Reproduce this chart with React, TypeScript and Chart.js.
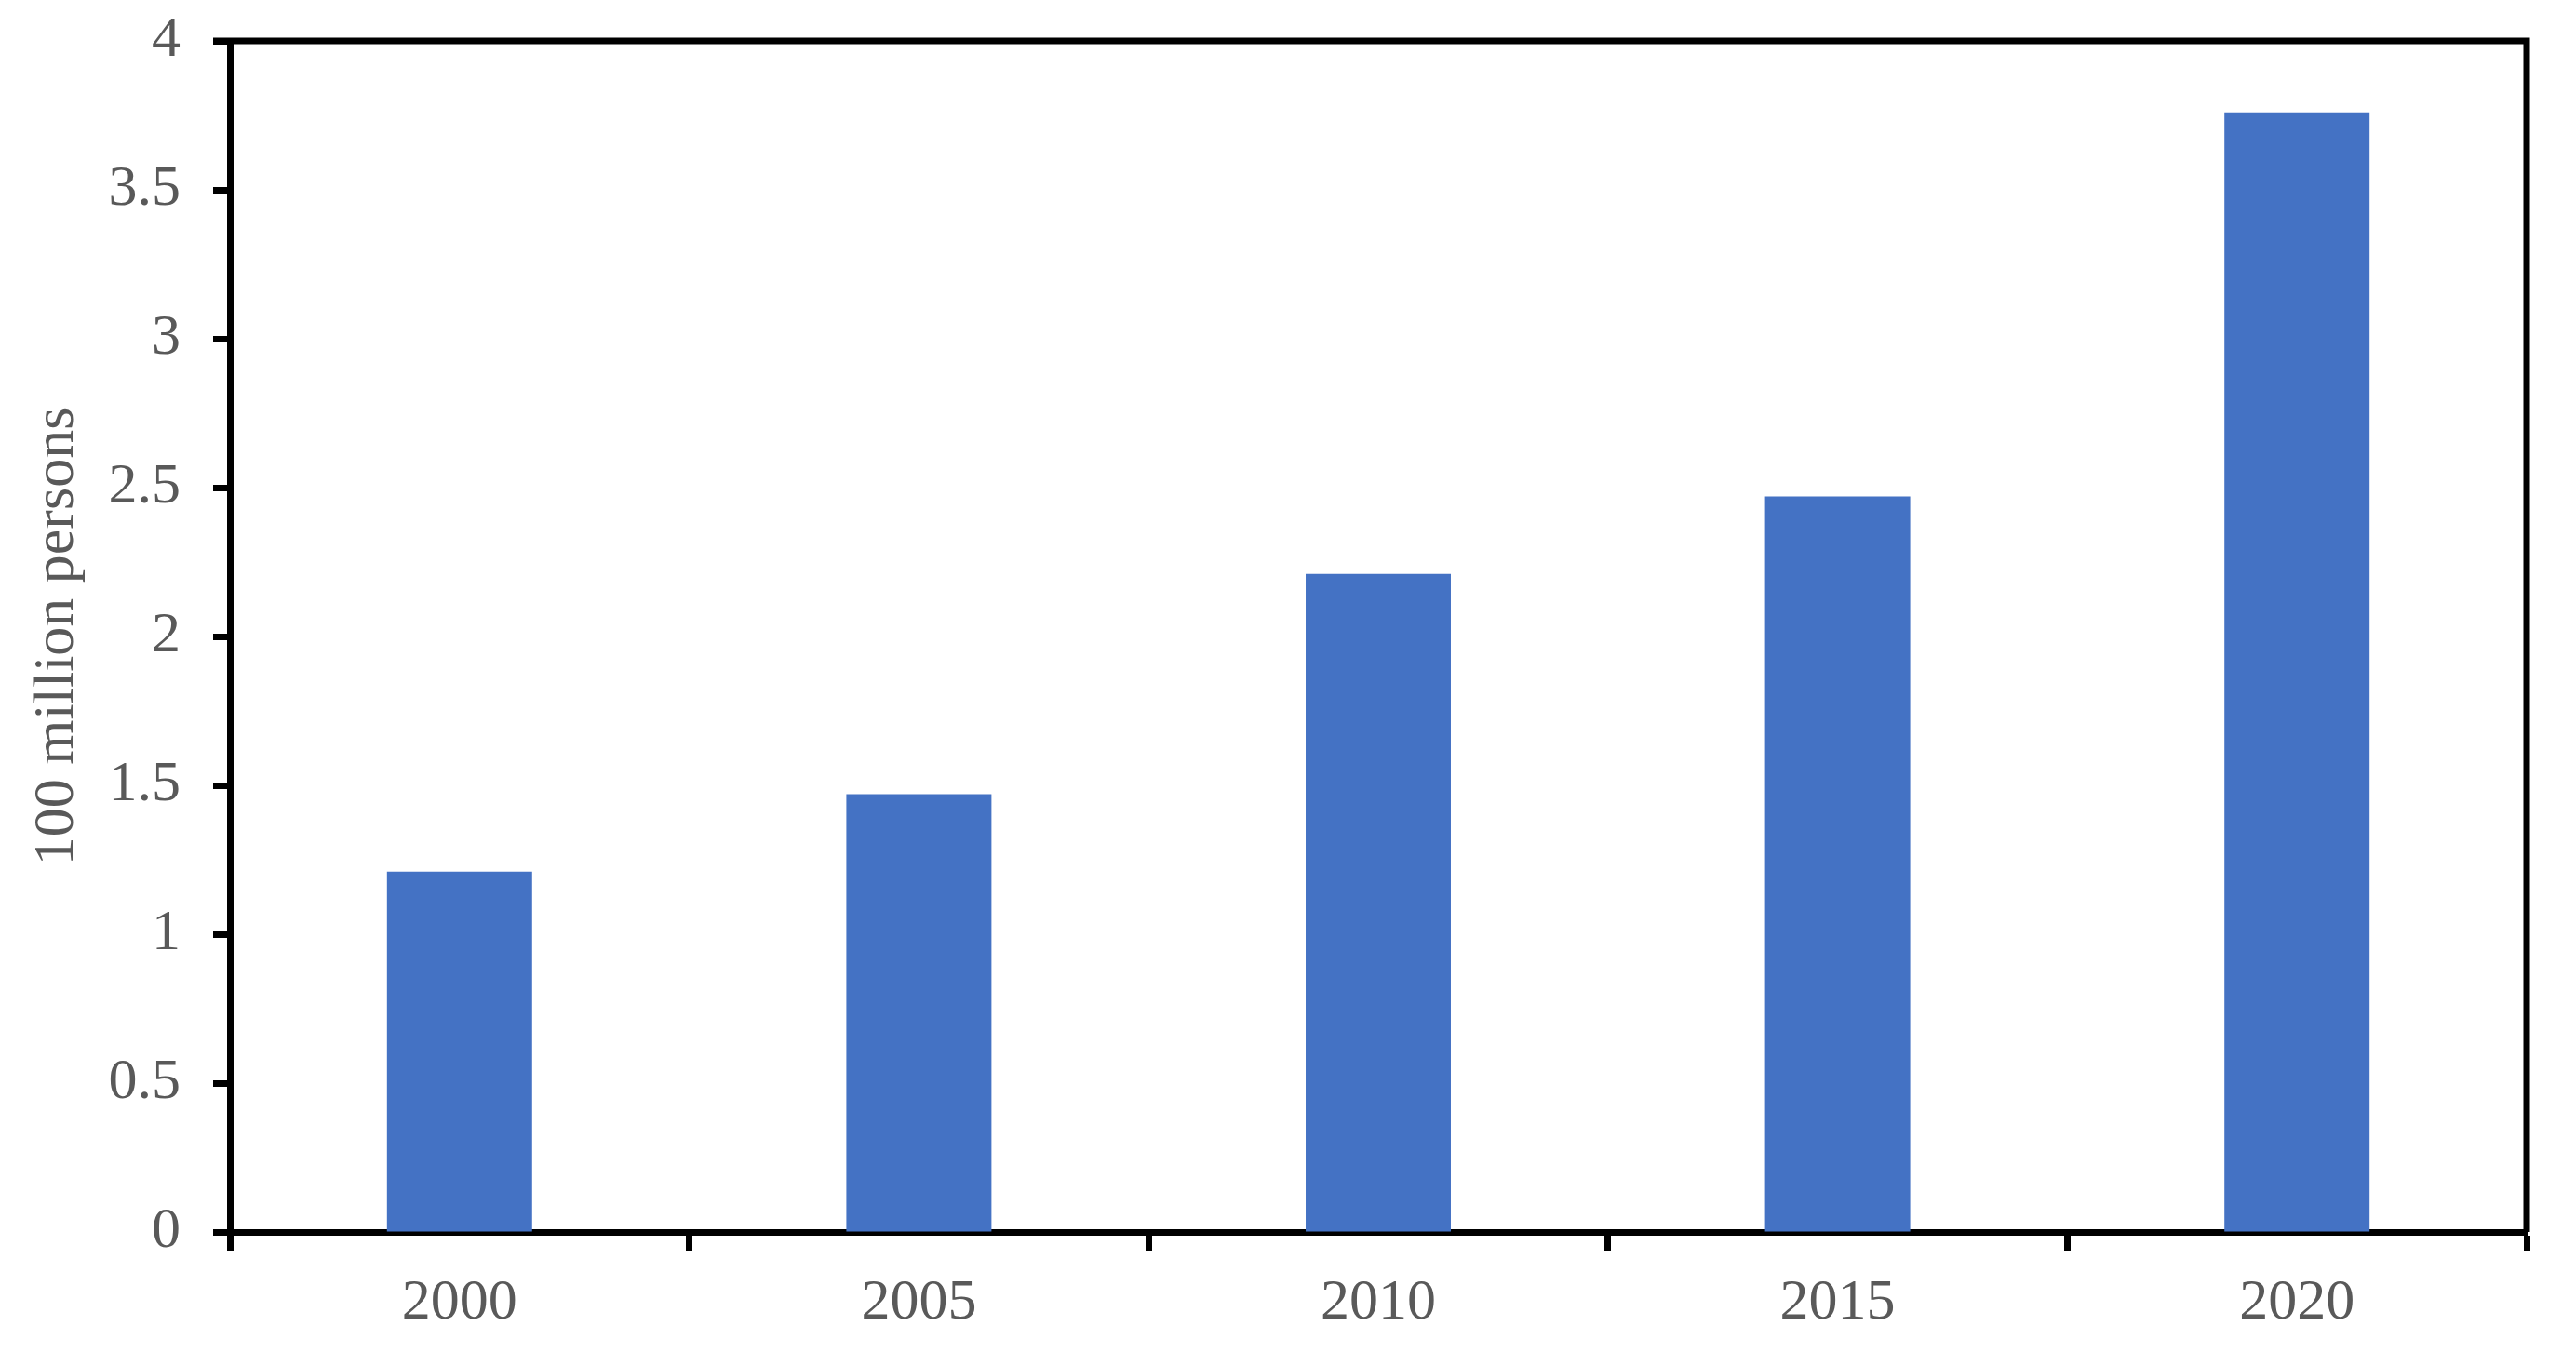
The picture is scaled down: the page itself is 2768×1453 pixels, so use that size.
import { useEffect, useRef } from 'react';
import { Chart, registerables } from 'chart.js';
Chart.register(...registerables);

const years = ['2000', '2005', '2010', '2015', '2020'];
const persons = [1.21, 1.47, 2.21, 2.47, 3.76];
const yTickValues = [0, 0.5, 1, 1.5, 2, 2.5, 3, 3.5, 4];
const yTickLabels = ['0', '0.5', '1', '1.5', '2', '2.5', '3', '3.5', '4'];
const yTitle = '100 million persons';

const FONT = "'Liberation Serif', 'Times New Roman', serif";
const TEXT = '#595959';

export default function App() {
  const ref = useRef<HTMLCanvasElement>(null);
  useEffect(() => {
    document.body.style.margin = '0';
    const frame = {
      id: 'frame',
      afterDraw(chart: any) {
        const { ctx, chartArea } = chart;
        ctx.save();
        ctx.strokeStyle = '#000';
        ctx.lineWidth = 7;
        ctx.beginPath();
        ctx.moveTo(chartArea.left - 18, chartArea.top);
        ctx.lineTo(chartArea.right + 3.5, chartArea.top);
        ctx.moveTo(chartArea.right, chartArea.top);
        ctx.lineTo(chartArea.right, chartArea.bottom);
        ctx.stroke();
        ctx.restore();
      },
    };
    const chart = new Chart(ref.current!, {
      type: 'bar',
      data: {
        labels: years,
        datasets: [
          {
            data: persons,
            backgroundColor: '#4472C4',
            borderWidth: 0,
            categoryPercentage: 1,
            barPercentage: 0.316,
          },
        ],
      },
      plugins: [frame],
      options: {
        animation: false,
        responsive: false,
        devicePixelRatio: 1,
        layout: { padding: { left: 0, top: 44, right: 53, bottom: 0 } },
        plugins: { legend: { display: false }, tooltip: { enabled: false } },
        scales: {
          x: {
            z: 1,
            grid: {
              display: true,
              drawOnChartArea: false,
              drawTicks: true,
              tickLength: 20,
              tickColor: '#000',
              tickWidth: 7,
              offset: true,
            },
            border: { display: true, color: '#000', width: 7 },
            ticks: {
              color: TEXT,
              padding: 20,
              font: { family: FONT, size: 62, lineHeight: 1.2 },
            },
            afterFit(scale: any) {
              scale.height = 1453 - 1324;
              scale.paddingLeft = 0;
              scale.paddingRight = 0;
            },
          },
          y: {
            z: 1,
            min: 0,
            max: 4,
            afterBuildTicks(scale: any) {
              scale.ticks = yTickValues.map((v) => ({ value: v }));
            },
            grid: {
              display: true,
              drawOnChartArea: false,
              drawTicks: true,
              tickLength: 18,
              tickColor: '#000',
              tickWidth: 7,
            },
            border: { display: true, color: '#000', width: 7 },
            ticks: {
              color: TEXT,
              padding: 35,
              font: { family: FONT, size: 62, lineHeight: 1.2 },
              callback: (_v: any, i: number) => yTickLabels[i],
            },
            title: {
              display: true,
              text: yTitle,
              color: TEXT,
              padding: { top: 25, bottom: 0 },
              font: { family: FONT, size: 62, lineHeight: 1.2 },
            },
            afterFit(scale: any) {
              scale.width = 247;
              scale.paddingTop = 0;
              scale.paddingBottom = 0;
            },
          },
        },
      },
    });
    return () => chart.destroy();
  }, []);
  return (
    <div style={{ width: 2768, height: 1453, position: 'relative', background: '#fff' }}>
      <canvas ref={ref} width={2768} height={1453} style={{ width: 2768, height: 1453, display: 'block' }} />
    </div>
  );
}
